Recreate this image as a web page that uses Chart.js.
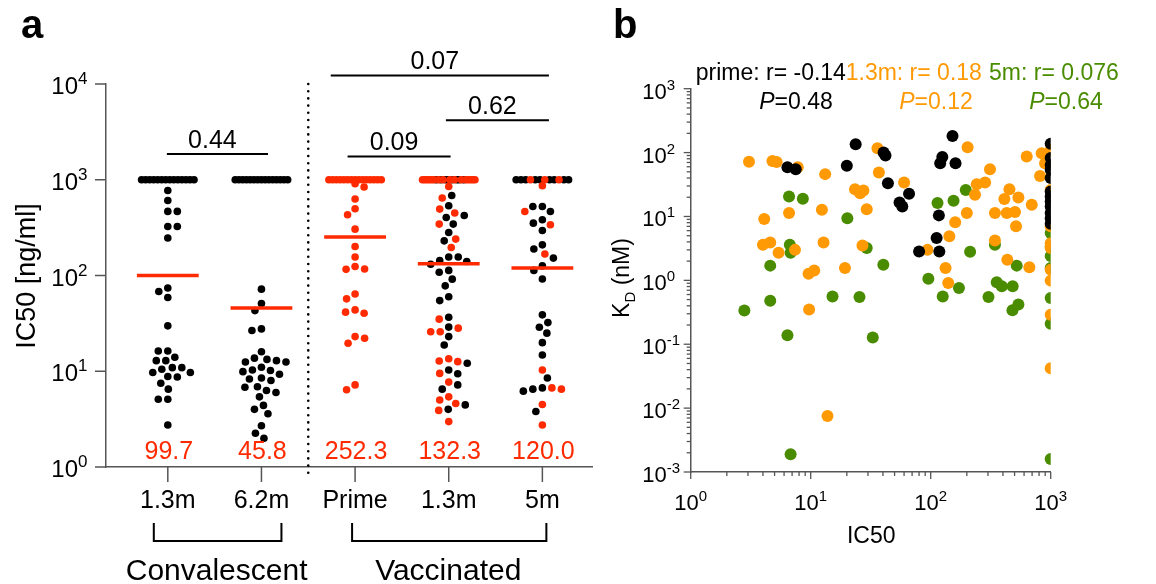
<!DOCTYPE html>
<html><head><meta charset="utf-8">
<script src="https://cdn.jsdelivr.net/npm/chart.js@4.4.0/dist/chart.umd.min.js"></script>
<style>
html,body{margin:0;padding:0;background:#fff;}
#wrap{position:relative;width:1156px;height:584px;overflow:hidden;background:#fff;}
#ca{position:absolute;left:0;top:0;}
#cb{position:absolute;left:600px;top:0;}
</style></head><body>
<div id="wrap"><canvas id="ca" width="600" height="584"></canvas><canvas id="cb" width="556" height="584"></canvas></div>
<script>
// ---------------- Panel a data ----------------
const groupLabels = ['1.3m', '6.2m', 'Prime', '1.3m', '5m'];
const cohortLabels = ['Convalescent', 'Vaccinated'];
const groupMeans = [99.7, 45.8, 252.3, 132.3, 120.0];
const groupMeanLabels = ['99.7', '45.8', '252.3', '132.3', '120.0'];
const pValues = ['0.44', '0.09', '0.62', '0.07'];
const pPairs = [[0, 1], [2, 3], [3, 4], [2, 4]];
const aYTickExps = [0, 1, 2, 3, 4];

const conv13Black = [1000,1000,1000,1000,1000,1000,1000,1000,1000,1000,1000,1000,1000,1000,
  773, 608, 467, 467, 325, 325, 246, 74, 68, 59, 29.8, 16.3, 16.3, 14.0, 12.9, 12.9, 10.9, 10.9,
  10.5, 9.7, 9.7, 8.7, 8.8, 7.5, 6.5, 5.1, 5.1, 2.75];
const conv13Red = [];
const conv62Black = [1000,1000,1000,1000,1000,1000,1000,1000,1000,1000,1000,1000,1000,1000,1000,
  72, 51, 43, 27.7, 26.6, 16.0, 13.7, 13.3, 12.9, 12.5, 12.5, 11.0, 10.3, 10.2, 9.9, 9.3, 8.5, 8.3,
  8.0, 6.9, 6.8, 6.3, 6.0, 5.4, 4.4, 4.0, 3.6, 2.7, 2.25, 2.0];
const conv62Red = [];
const primeBlack = [];
const primeRed = [1000,1000,1000,1000,1000,1000,1000,1000,1000,1000,1000,1000,1000,1000,1000,
  908, 839, 629, 497, 431, 305, 201, 156, 124, 117, 116, 64, 57, 43.7, 41.4, 40.4, 23, 22.1, 19.6, 7.2, 6.4];
const vac13Black = [1000,1000,1000,1000,1000,1000,1000,1000,
  685, 535, 424, 404, 344, 281, 230, 156, 156, 143, 140, 131, 113, 108, 91.6, 78, 60, 54.7, 36.7,
  28.9, 23, 18.8, 12.1, 10.3, 9.4, 7.2, 6.5, 4.45, 4.0];
const vac13Red = [1000,1000,1000,1000,1000,1000,1000,1000,1000,1000,1000,1000,1000,1000,1000,1000,
  851, 644, 494, 449, 344, 240, 196, 35, 28.2, 25.9, 25.9, 13.5, 12.8, 12.6, 9.5, 7.7, 5.4, 5.0, 4.6, 3.9, 2.98];
const vac5Black = [1000,1000,1000,1000,1000,1000,1000,1000,1000,
  526, 526, 466, 382, 352, 295, 209, 189, 152, 126, 113, 92, 38.8, 32.2, 28.8, 25, 19.9, 14.8, 8.5,
  6.7, 6.5, 6.2, 3.8];
const vac5Red = [1000,1000,1000,
  865, 466, 339, 168, 10.3, 6.7, 6.5, 4.5, 2.75];

// ---------------- Panel b data ----------------
const bSeriesLabels = ['prime: r= -0.14', '1.3m: r= 0.18', '5m: r= 0.076'];
const bPLabels = ['0.48', '0.12', '0.64'];
const bYTickExps = [-3, -2, -1, 0, 1, 2, 3];
const bXTickExps = [0, 1, 2, 3];

const primeIC50 = [6.4, 7.5, 20, 23.7, 40.5, 42, 44, 55, 58, 66, 80, 112, 117, 118, 120, 125, 152, 161,
  1000, 1000, 1000, 1000, 1000, 1000, 1000, 1000, 1000, 1000, 1000, 1000];
const primeKD = [59, 55, 62, 135, 100, 90, 33, 16.5, 14.3, 22.6, 2.84, 4.6, 10.4, 2.84, 68, 85, 182, 68,
  137, 82, 64, 54, 40, 24.6, 20.5, 17.1, 14.3, 11.3, 9.4, 7.7];

const m13IC50 = [3.06, 4.8, 5.2, 7.8, 4.1, 4.0, 4.6, 5.4, 6.6, 7.4, 9.6, 10.7, 9.7, 12.8, 12.4, 13.2, 13.8,
  19.3, 23.4, 25.8, 27.5, 27, 29.3, 36, 37, 60, 94, 133, 140, 143, 160, 200, 203, 234, 242, 284, 312,
  343, 343, 411, 430, 435, 453, 504, 514, 538, 631, 664, 695, 815, 841, 897,
  1000, 1000, 1000, 1000, 1000, 1000, 1000, 1000, 1000];
const m13KD = [72, 74, 71, 59, 9.1, 3.6, 3.9, 2.7, 11.3, 3.0, 1.27, 1.43, 0.35, 3.9, 12.7, 46, 0.0075,
  1.56, 26.7, 23, 25.5, 3.5, 13, 117, 48.7, 34, 3.0, 1.56, 0.91, 4.9, 8.1, 11.3, 121, 21.8, 32, 34, 55,
  11.3, 4.2, 18.7, 11.3, 2.1, 26.7, 11.7, 7.0, 19.8, 87, 1.6, 15.2, 43, 98, 68,
  110, 26, 7.0, 3.8, 3.2, 1.47, 0.99, 0.29, 0.042];

const m5IC50 = [2.8, 4.6, 4.6, 6.4, 6.6, 6.7, 6.8, 6.8, 8.6, 15.2, 20.2, 25.5, 29.3, 32.9, 40.3, 95.6, 114,
  126, 155, 172, 196, 213, 303, 343, 355, 391, 480, 482, 521, 538,
  1000, 1000, 1000, 1000, 1000, 1000, 1000];
const m5KD = [0.336, 1.7, 0.48, 0.138, 20.5, 3.6, 2.7, 0.0019, 18.9, 0.56, 9.4, 0.55, 3.2, 0.128, 1.76, 1.06, 16.2,
  0.56, 17.6, 0.76, 26, 2.8, 0.55, 3.6, 0.93, 0.81, 0.34, 0.81, 1.7, 0.42,
  5.5, 3.4, 2.4, 1.56, 0.53, 0.21, 0.0016];

// ---------------- styling ----------------
const FONT = '"Liberation Sans", Arial, Helvetica, sans-serif';
const RED = '#ff2a00';
const ORANGE = '#ff9a05';
const GREEN = '#4a8c00';
const AXIS = '#555';

// ---------------- panel a swarm layout ----------------
const PX_DEC_A = 95.7, PX_UNIT_A = 93.5, R_A = 3.8, CAP = 1000, CAP_HALF = 0.28;
function swarm(gi, blackVals, redVals) {
  const items = blackVals.map(v => ({v, c: 'k'})).concat(redVals.map(v => ({v, c: 'r'})));
  const out = [];
  const caps = items.filter(d => d.v >= CAP);
  const rest = items.filter(d => d.v < CAP).sort((a, b) => b.v - a.v);
  const n = caps.length;
  if (n) {
    const reds = caps.filter(d => d.c === 'r'), blacks = caps.filter(d => d.c === 'k');
    const minority = reds.length <= blacks.length ? reds : blacks;
    const majority = minority === reds ? blacks : reds;
    const slots = new Array(n).fill(null);
    minority.forEach((d, i) => {
      let pos = Math.round((n - 1) * (minority.length > 1 ? 0.28 + 0.5 * i / (minority.length - 1) : 0.5));
      while (slots[pos]) pos = (pos + 1) % n;
      slots[pos] = d;
    });
    let mi = 0;
    for (let i = 0; i < n; i++) if (!slots[i]) slots[i] = majority[mi++];
    slots.forEach((d, i) => out.push({x: gi + (n > 1 ? -CAP_HALF + 2 * CAP_HALF * i / (n - 1) : 0), y: d.v, c: d.c}));
  }
  const placed = [];
  const minD = 2 * R_A + 1.8;
  for (const d of rest) {
    const py = Math.log10(d.v) * PX_DEC_A;
    let best = null;
    for (let o = 0; o <= 40 && best === null; o += 0.5) {
      const cands = o === 0 ? [0] : (placed.length % 2 ? [o, -o] : [-o, o]);
      for (const ox of cands) {
        if (placed.every(p => Math.hypot(p.ox - ox, p.py - py) >= minD)) { best = ox; break; }
      }
    }
    if (best === null) best = 0;
    placed.push({ox: best, py});
    out.push({x: gi + best / PX_UNIT_A, y: d.v, c: d.c});
  }
  return out;
}
const groupsBlack = [conv13Black, conv62Black, primeBlack, vac13Black, vac5Black];
const groupsRed = [conv13Red, conv62Red, primeRed, vac13Red, vac5Red];
let allPts = [];
groupsBlack.forEach((b, gi) => { allPts = allPts.concat(swarm(gi, b, groupsRed[gi])); });
const blackPts = allPts.filter(p => p.c === 'k').map(p => ({x: p.x, y: p.y}));
const redPts = allPts.filter(p => p.c === 'r').map(p => ({x: p.x, y: p.y}));

function drawPow(ctx, exp, x, yBase, mode, f1, f2, raise) {
  ctx.font = f1; const w1 = ctx.measureText('10').width;
  ctx.font = f2; const w2 = ctx.measureText(String(exp)).width;
  const x0 = mode === 'center' ? x - (w1 + w2) / 2 : x - w1;
  ctx.textAlign = 'left'; ctx.textBaseline = 'alphabetic';
  ctx.font = f1; ctx.fillText('10', x0, yBase);
  ctx.font = f2; ctx.fillText(String(exp), x0 + w1, yBase - raise);
}
function seg(ctx, x1, y1, x2, y2) { ctx.beginPath(); ctx.moveTo(x1, y1); ctx.lineTo(x2, y2); ctx.stroke(); }

const bracketCfg = [
  {level: 1855, x1: -0.01, x2: 1.07},
  {level: 1750, x1: 1.92, x2: 3.02},
  {level: 4170, x1: 2.97, x2: 4.07},
  {level: 12300, x1: 1.74, x2: 4.07}
];

const panelAPlugin = {
  id: 'panelA',
  afterDraw(chart) {
    const {ctx, chartArea: ca} = chart;
    const x = chart.scales.x, y = chart.scales.y;
    ctx.save();
    ctx.strokeStyle = AXIS; ctx.lineWidth = 1.5; ctx.fillStyle = '#000';
    aYTickExps.forEach(e => {
      const py = y.getPixelForValue(Math.pow(10, e));
      seg(ctx, ca.left - 11, py, ca.left, py);
      drawPow(ctx, e, ca.left - 28, py + 10, 'right', '24px ' + FONT, '17px ' + FONT, 10);
    });
    groupLabels.forEach((lab, i) => {
      const px = x.getPixelForValue(i);
      ctx.strokeStyle = AXIS;
      seg(ctx, px, ca.bottom, px, ca.bottom + 15);
      ctx.font = '25px ' + FONT; ctx.textAlign = 'center'; ctx.textBaseline = 'alphabetic';
      ctx.fillText(lab, px, ca.bottom + 41);
    });
    ctx.save();
    ctx.translate(35, 276); ctx.rotate(-Math.PI / 2);
    ctx.font = '27px ' + FONT; ctx.textAlign = 'center'; ctx.fillText('IC50 [ng/ml]', 0, 0);
    ctx.restore();
    ctx.save();
    ctx.strokeStyle = '#000'; ctx.lineWidth = 2.6; ctx.lineCap = 'round'; ctx.setLineDash([0, 7.2]);
    const sx = x.getPixelForValue(1.5);
    seg(ctx, sx, y.getPixelForValue(10000), sx, ca.bottom + 6);
    ctx.restore();
    ctx.fillStyle = RED; ctx.font = '25px ' + FONT; ctx.textAlign = 'center';
    groupMeanLabels.forEach((t, i) => ctx.fillText(t, x.getPixelForValue(i) + 1, ca.bottom - 8));
    ctx.fillStyle = '#000'; ctx.strokeStyle = '#000'; ctx.lineWidth = 2;
    pValues.forEach((t, k) => {
      const b = bracketCfg[k];
      const py = y.getPixelForValue(b.level);
      const x1 = x.getPixelForValue(b.x1), x2 = x.getPixelForValue(b.x2);
      seg(ctx, x1, py, x2, py);
      ctx.font = '25px ' + FONT; ctx.textAlign = 'center';
      ctx.fillText(t, (x1 + x2) / 2 - 5, py - 6);
    });
    const cohortSpans = [[x.getPixelForValue(0) - 14, x.getPixelForValue(1) + 20], [x.getPixelForValue(2) - 3, x.getPixelForValue(4) + 4]];
    cohortLabels.forEach((t, k) => {
      const [x1, x2] = cohortSpans[k];
      ctx.beginPath(); ctx.moveTo(x1, 523); ctx.lineTo(x1, 541); ctx.lineTo(x2, 541); ctx.lineTo(x2, 523); ctx.stroke();
      ctx.font = '30px ' + FONT; ctx.textAlign = 'center';
      ctx.fillText(t, (x1 + x2) / 2 - 1, 580);
    });
    ctx.font = 'bold 40px ' + FONT; ctx.textAlign = 'left';
    ctx.fillText('a', 21, 38);
    ctx.restore();
  }
};

const meanDatasets = groupMeans.map((m, i) => ({
  type: 'line', data: [{x: i - 0.33, y: m}, {x: i + 0.33, y: m}],
  borderColor: RED, borderWidth: 3.5, pointRadius: 0, showLine: true, order: 0, fill: false
}));

new Chart(document.getElementById('ca'), {
  type: 'scatter',
  data: {
    datasets: [
      ...meanDatasets,
      {data: redPts, backgroundColor: RED, borderWidth: 0, pointRadius: R_A, order: 1},
      {data: blackPts, backgroundColor: '#000', borderWidth: 0, pointRadius: R_A, order: 2}
    ]
  },
  options: {
    responsive: false, animation: false, events: [],
    layout: {padding: {left: 106, right: 8, top: 84, bottom: 117}},
    plugins: {legend: {display: false}, tooltip: {enabled: false}},
    scales: {
      x: {type: 'linear', min: -0.66, max: 4.53, grid: {display: false, drawTicks: false}, ticks: {display: false},
          border: {display: true, color: AXIS, width: 1.5}},
      y: {type: 'logarithmic', min: 1, max: 10000, grid: {display: false, drawTicks: false}, ticks: {display: false},
          border: {display: true, color: AXIS, width: 1.5}}
    }
  },
  plugins: [panelAPlugin]
});

// ---------------- panel b ----------------
function pairs(xs, ys) { return xs.map((v, i) => ({x: v, y: ys[i]})); }
const panelBPlugin = {
  id: 'panelB',
  afterDraw(chart) {
    const {ctx, chartArea: ca} = chart;
    const x = chart.scales.x, y = chart.scales.y;
    ctx.save();
    ctx.strokeStyle = AXIS; ctx.lineWidth = 1.3; ctx.fillStyle = '#000';
    bYTickExps.forEach((e, k) => {
      const py = y.getPixelForValue(Math.pow(10, e));
      seg(ctx, ca.left - 7, py, ca.left, py);
      if (k < bYTickExps.length - 1) {
        for (let m = 2; m <= 9; m++) {
          const pm = y.getPixelForValue(m * Math.pow(10, e));
          seg(ctx, ca.left - 4, pm, ca.left, pm);
        }
      }
      drawPow(ctx, e, ca.left - 24, py + 10, 'right', '22px ' + FONT, '15px ' + FONT, 9);
    });
    bXTickExps.forEach((e, k) => {
      const px = x.getPixelForValue(Math.pow(10, e));
      seg(ctx, px, ca.bottom, px, ca.bottom + 7);
      if (k < bXTickExps.length - 1) {
        for (let m = 2; m <= 9; m++) {
          const pm = x.getPixelForValue(m * Math.pow(10, e));
          seg(ctx, pm, ca.bottom, pm, ca.bottom + 4);
        }
      }
      drawPow(ctx, e, px, ca.bottom + 38, 'center', '22px ' + FONT, '15px ' + FONT, 9);
    });
    ctx.font = '23px ' + FONT; ctx.textAlign = 'center'; ctx.textBaseline = 'alphabetic';
    ctx.fillText('IC50', (ca.left + ca.right) / 2 + 0.5, 543);
    ctx.save();
    ctx.translate(28.5, 278); ctx.rotate(-Math.PI / 2);
    ctx.font = '23px ' + FONT;
    const wK = ctx.measureText('K').width;
    ctx.font = '15px ' + FONT; const wD = ctx.measureText('D').width;
    ctx.font = '23px ' + FONT; const wR = ctx.measureText(' (nM)').width;
    let sx = -(wK + wD + wR) / 2;
    ctx.textAlign = 'left';
    ctx.fillText('K', sx, 0); sx += wK;
    ctx.font = '15px ' + FONT; ctx.fillText('D', sx, 6); sx += wD;
    ctx.font = '23px ' + FONT; ctx.fillText(' (nM)', sx, 0);
    ctx.restore();
    const cols = ['#000', ORANGE, GREEN];
    const lx = [95.7, 245.7, 389];
    const pc = [196, 336, 466];
    ctx.textAlign = 'left';
    bSeriesLabels.forEach((t, i) => {
      ctx.fillStyle = cols[i]; ctx.font = '23px ' + FONT;
      ctx.fillText(t, lx[i], 80);
      ctx.font = 'italic 23px ' + FONT; const wP = ctx.measureText('P').width;
      ctx.font = '23px ' + FONT; const wr = ctx.measureText('=' + bPLabels[i]).width;
      const x0 = pc[i] - (wP + wr) / 2;
      ctx.font = 'italic 23px ' + FONT; ctx.fillText('P', x0, 109);
      ctx.font = '23px ' + FONT; ctx.fillText('=' + bPLabels[i], x0 + wP, 109);
    });
    ctx.fillStyle = '#000'; ctx.font = 'bold 40px ' + FONT;
    ctx.fillText('b', 13, 38);
    ctx.restore();
  }
};

new Chart(document.getElementById('cb'), {
  type: 'scatter',
  data: {
    datasets: [
      {data: pairs(primeIC50, primeKD), backgroundColor: '#000', borderWidth: 0, pointRadius: 6},
      {data: pairs(m13IC50, m13KD), backgroundColor: ORANGE, borderWidth: 0, pointRadius: 6},
      {data: pairs(m5IC50, m5KD), backgroundColor: GREEN, borderWidth: 0, pointRadius: 6}
    ]
  },
  options: {
    responsive: false, animation: false, events: [],
    layout: {padding: {left: 90.7, right: 105.3, top: 88.7, bottom: 112}},
    plugins: {legend: {display: false}, tooltip: {enabled: false}},
    scales: {
      x: {type: 'logarithmic', min: 1, max: 1000, grid: {display: false, drawTicks: false}, ticks: {display: false},
          border: {display: true, color: AXIS, width: 1.5}},
      y: {type: 'logarithmic', min: 0.001, max: 1000, grid: {display: false, drawTicks: false}, ticks: {display: false},
          border: {display: true, color: AXIS, width: 1.5}}
    }
  },
  plugins: [panelBPlugin]
});
</script>
</body></html>
